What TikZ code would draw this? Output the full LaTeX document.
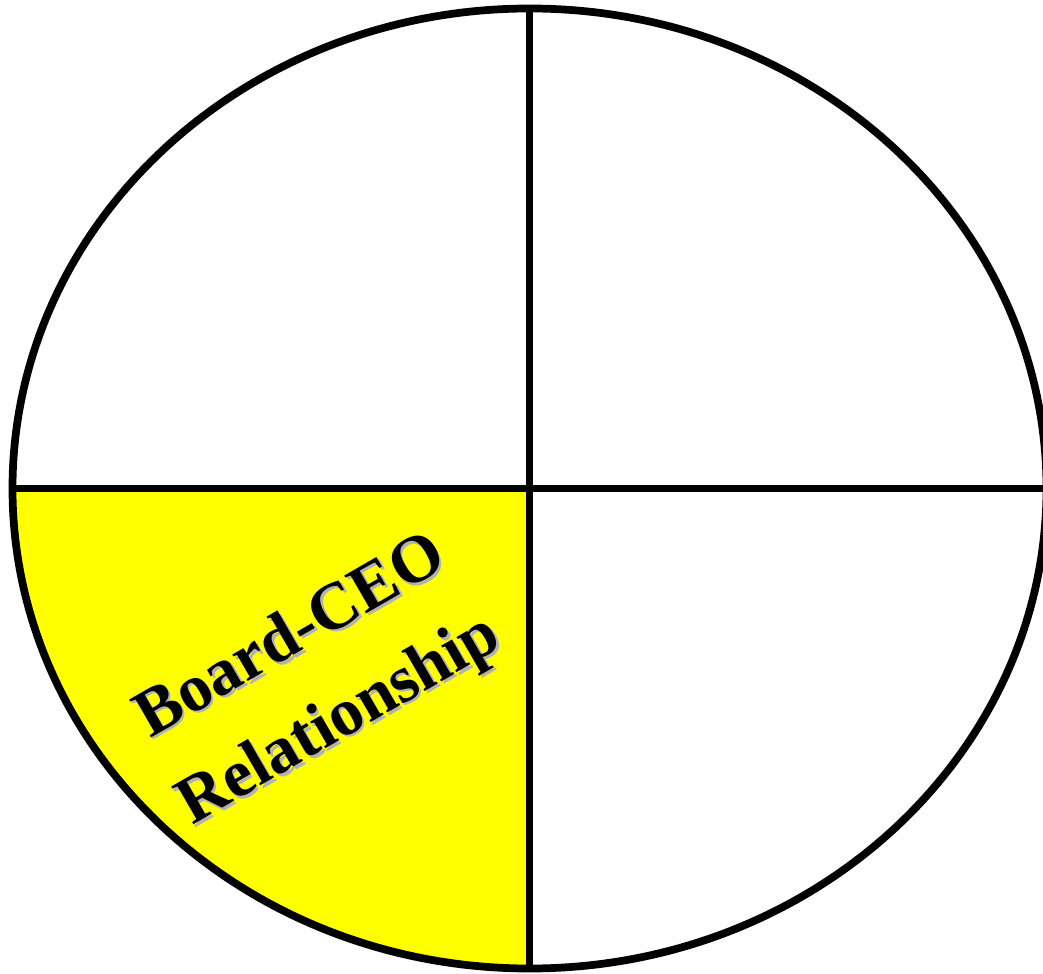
\documentclass[tikz,border=0pt]{standalone}
\usepackage{fontspec}
\setmainfont{Liberation Serif}
\usetikzlibrary{calc}
\definecolor{quadyellow}{RGB}{255,255,0}
\begin{document}
\begin{tikzpicture}[
  outline/.style={line width=2.2pt, draw=black},
  label/.style={font=\bfseries\fontsize{19}{27.5}\selectfont, align=center, rotate=30, inner sep=0pt}
]
\useasboundingbox (0,0) rectangle (10.43,9.73);
\clip (0,0) rectangle (10.43,9.73);
\def\rx{5.17cm}
\def\ry{4.80cm}
\coordinate (c) at (5.295,4.845);
\coordinate (top) at ($(c)+(0,4.80)$);
\coordinate (bot) at ($(c)+(0,-4.80)$);
\coordinate (lft) at ($(c)+(-5.17,0)$);
\coordinate (rgt) at ($(c)+(5.17,0)$);
\fill[quadyellow] (c) -- (lft) arc[start angle=180, end angle=270, x radius=\rx, y radius=\ry] -- cycle;
\draw[outline] (c) ellipse [x radius=\rx, y radius=\ry];
\draw[outline] (top) -- (bot);
\draw[outline] (lft) -- (rgt);
\node[label, text=black!30] (shadow) at (3.185,2.905) {Board-CEO\\Relationship};
\node[label, text=black] (txt) at (3.16,2.93) {Board-CEO\\Relationship};
\end{tikzpicture}
\end{document}
